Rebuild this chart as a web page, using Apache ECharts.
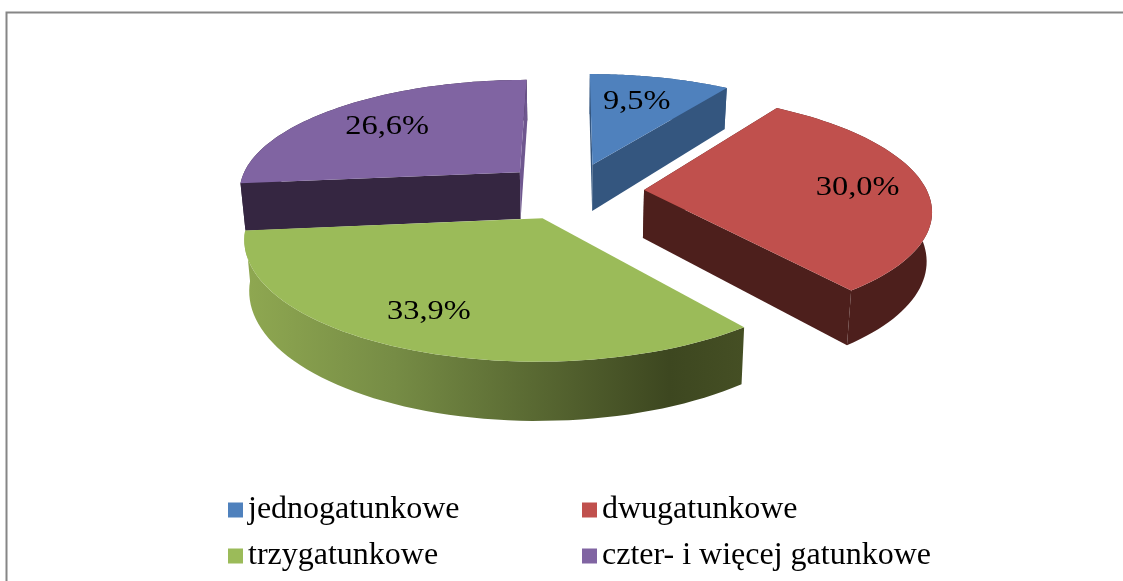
<!doctype html>
<html>
    <head>
        <meta charset="utf-8">
        <title>Pie 3D</title>
        <style>
            html, body { margin: 0; padding: 0; background: #fff; }
            #main { width: 1123px; height: 581px; }
        </style>
    </head>
    <body>
        <div id="main"></div>
        <script src="https://cdn.jsdelivr.net/npm/echarts@6/dist/echarts.min.js"></script>
        <script>
            var categories = ['jednogatunkowe', 'dwugatunkowe', 'trzygatunkowe', 'czter- i więcej gatunkowe'];
            var shares = [9.5, 30.0, 33.9, 26.6];
            var topColors = ['#4f81bd', '#c0504d', '#9bbb59', '#8064a2'];
            var sideColors = ['#34567f', '#4d1f1c', '#5f7236', '#352641'];

            // projection of the tilted disc
            var cx = 572, cy = 191, rx = 283, ry = 112, camera = 6.5, explode = 0.255, depth = 48, shrink = 0.985;
            // how far out each label sits, and its turn off the slice middle in degrees
            var labelRadius = [0.69, 0.76, 0.765, 0.7];
            var labelTurn = [-1.5, 0, 2.6, -1];
            // painted from the back to the front
            var drawOrder = [3, 0, 1, 2];

            var total = shares.reduce(function (a, b) { return a + b; }, 0);

            function project(u, v, bottom) {
                var s = camera / (camera - v);
                var x = cx + rx * u * s;
                var y = cy + ry * v * s;
                if (bottom) {
                    x = cx + (x - cx) * shrink;
                    y += depth * s;
                }
                return [x, y];
            }

            function renderSlice(params, api) {
                var idx = api.value(0);
                var start = 0;
                for (var i = 0; i < idx; i++) {
                    start += shares[i] / total * Math.PI * 2;
                }
                var end = start + shares[idx] / total * Math.PI * 2;
                var mid = (start + end) / 2;
                var ox = Math.sin(mid) * explode;
                var oy = -Math.cos(mid) * explode;

                function point(angle, r, bottom) {
                    return project(ox + Math.sin(angle) * r, oy - Math.cos(angle) * r, bottom);
                }

                var topArc = [], bottomArc = [];
                var steps = 60;
                for (var k = 0; k <= steps; k++) {
                    var a = start + (end - start) * k / steps;
                    topArc.push(point(a, 1, false));
                    bottomArc.push(point(a, 1, true));
                }
                var tip = point(0, 0, false);
                var tipBottom = point(0, 0, true);

                var sideFill = sideColors[idx];
                if (idx === 2) {
                    sideFill = new echarts.graphic.LinearGradient(0, 0, 1, 0, [
                        { offset: 0, color: '#8fa851' },
                        { offset: 0.3, color: '#768c45' },
                        { offset: 0.85, color: '#3d4720' },
                        { offset: 1, color: '#454f24' }
                    ]);
                }

                var children = [{
                    type: 'polygon',
                    shape: { points: topArc.concat(bottomArc.slice().reverse()) },
                    style: { fill: sideFill }
                }];
                // the green slice faces the viewer, its walls stay hidden
                if (idx !== 2) {
                    children.push({
                        type: 'polygon',
                        shape: { points: [tip, topArc[0], bottomArc[0], tipBottom] },
                        style: { fill: sideColors[idx] }
                    }, {
                        type: 'polygon',
                        shape: { points: [tip, topArc[steps], bottomArc[steps], tipBottom] },
                        // the purple slice's inner wall catches the light
                        style: { fill: idx === 3 ? '#6f578f' : sideColors[idx] }
                    });
                }
                children.push({
                    type: 'polygon',
                    shape: { points: [tip].concat(topArc) },
                    style: { fill: topColors[idx] }
                });

                var labelAt = point(mid + labelTurn[idx] * Math.PI / 180, labelRadius[idx], false);
                children.push({
                    type: 'text',
                    x: labelAt[0],
                    y: labelAt[1],
                    scaleX: 1.2,
                    style: {
                        text: api.value(1).toFixed(1).replace('.', ',') + '%',
                        fill: '#000',
                        font: '27px "Liberation Serif"',
                        textAlign: 'center',
                        textVerticalAlign: 'middle'
                    }
                });

                return { type: 'group', children: children };
            }

            var chart = echarts.init(document.getElementById('main'));

            chart.setOption({
                animation: false,
                backgroundColor: '#fff',
                graphic: [{
                    type: 'rect',
                    silent: true,
                    shape: { x: 6.5, y: 12.5, width: 1200, height: 700 },
                    style: { fill: 'none', stroke: '#868686', lineWidth: 2 }
                }],
                legend: [{
                    orient: 'vertical',
                    left: 223,
                    top: 489,
                    itemWidth: 15,
                    itemHeight: 15,
                    itemGap: 14,
                    icon: 'rect',
                    data: [categories[0], categories[2]],
                    textStyle: { fontFamily: 'Liberation Serif', fontSize: 32, color: '#000' }
                }, {
                    orient: 'vertical',
                    left: 577,
                    top: 489,
                    itemWidth: 15,
                    itemHeight: 15,
                    itemGap: 14,
                    icon: 'rect',
                    data: [categories[1], categories[3]],
                    textStyle: { fontFamily: 'Liberation Serif', fontSize: 32, color: '#000' }
                }],
                series: drawOrder.map(function (idx) {
                    return {
                        type: 'custom',
                        name: categories[idx],
                        coordinateSystem: 'none',
                        renderItem: renderSlice,
                        itemStyle: { color: topColors[idx] },
                        encode: { value: 1 },
                        data: [[idx, shares[idx]]]
                    };
                })
            });

            window.addEventListener('resize', function () {
                chart.resize();
            });
        </script>
    </body>
</html>
